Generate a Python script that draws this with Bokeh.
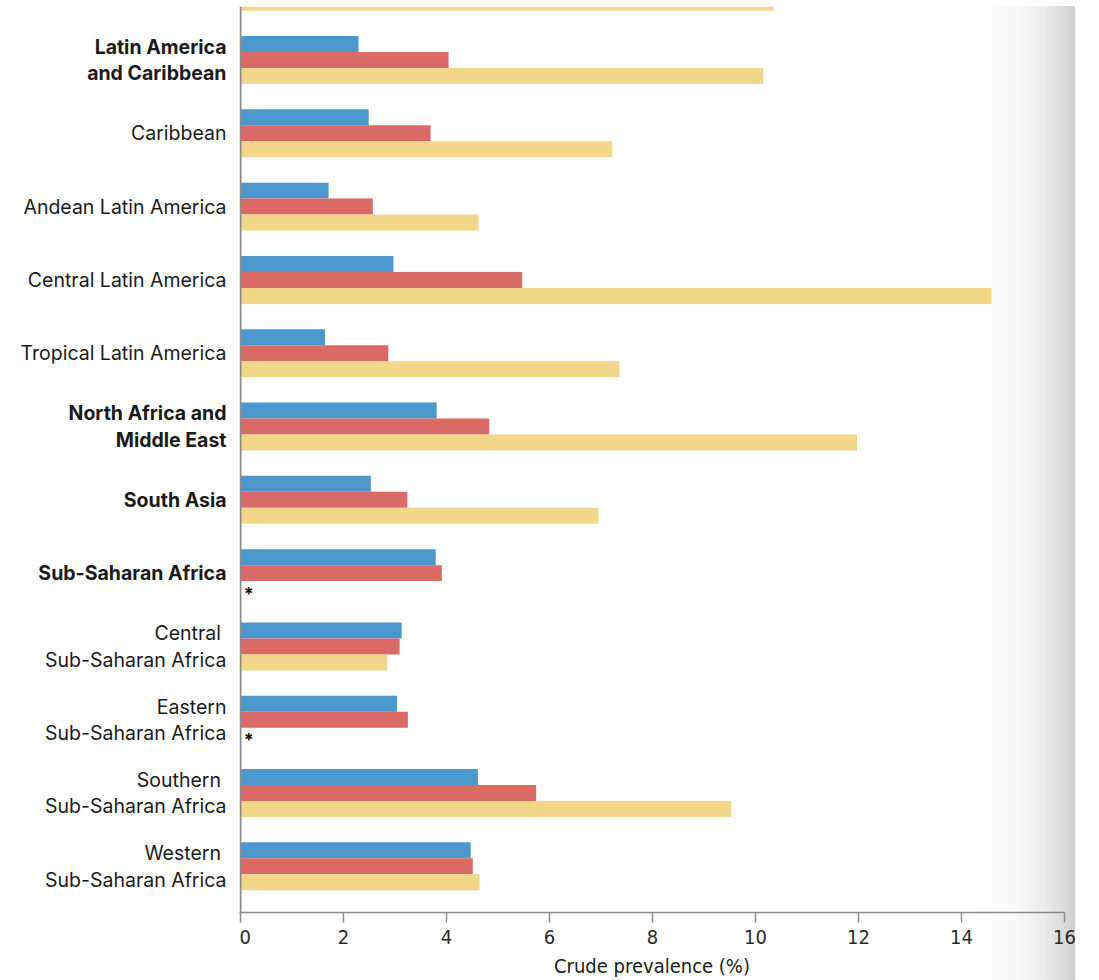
import math

from bokeh.core.properties import value
from bokeh.embed import file_html
from bokeh.layouts import row
from bokeh.models import ColumnDataSource, FixedTicker, Range1d
from bokeh.plotting import figure
from bokeh.resources import INLINE

NAN = float("nan")

# Regions, top to bottom (the first row is the tail of the preceding block)
regions = [
    "Western Europe",
    "Latin America\nand Caribbean",
    "Caribbean",
    "Andean Latin America",
    "Central Latin America",
    "Tropical Latin America",
    "North Africa and\nMiddle East",
    "South Asia",
    "Sub-Saharan Africa",
    "Central \nSub-Saharan Africa",
    "Eastern\nSub-Saharan Africa",
    "Southern \nSub-Saharan Africa",
    "Western \nSub-Saharan Africa",
]
super_region = [False, True, False, False, False, False, True, True, True,
                False, False, False, False]

# Crude prevalence (%) for the three series
prev_blue = [NAN, 2.29, 2.49, 1.71, 2.97, 1.64, 3.81, 2.53, 3.79, 3.13, 3.04, 4.61, 4.47]
prev_red = [NAN, 4.04, 3.69, 2.57, 5.47, 2.87, 4.83, 3.24, 3.91, 3.09, 3.25, 5.74, 4.51]
prev_yellow = [10.35, 10.15, 7.22, 4.62, 14.58, 7.36, 11.97, 6.95, NAN, 2.85, NAN, 9.53, 4.64]

x_ticks = [0, 2, 4, 6, 8, 10, 12, 14, 16]

BLUE = "#4c98cd"
RED = "#d96a66"
YELLOW = "#f2d68a"
BAR_H = 0.218
TICK_FONT = "DejaVu Sans Condensed"

rows = list(range(len(regions)))
y_range = Range1d(12.63, 0.27)

LABEL_W = 239
FRAME_W = 825
PX_PER_UNIT = 824 / 16

# ---- left panel holding the region names ----
lab = figure(
    width=LABEL_W, height=980,
    output_backend="svg", toolbar_location=None,
    x_range=Range1d(0, LABEL_W), y_range=y_range,
    x_axis_location=None, y_axis_location=None,
    min_border_left=0, min_border_right=0,
    min_border_top=6, min_border_bottom=68,
    outline_line_color=None,
)
lab.xgrid.visible = False
lab.ygrid.visible = False

visible = [r for r in rows if y_range.end <= r <= y_range.start]
lab_src = ColumnDataSource(dict(
    x=[LABEL_W - 13] * len(visible),
    y=visible,
    text=[regions[r] for r in visible],
    style=["bold" if super_region[r] else "normal" for r in visible],
))
lab.text(x="x", y="y", text="text", source=lab_src,
         text_font=value("Inter"), text_font_size="19.5px",
         text_font_style="style", text_color="#1a1a1a",
         text_align="right", text_baseline="middle", text_line_height=1.1)

# ---- bar panel ----
p = figure(
    width=1099 - LABEL_W, height=980,
    output_backend="svg", toolbar_location=None,
    x_range=Range1d(-1 / PX_PER_UNIT, 16), y_range=y_range,
    y_axis_location=None,
    min_border_left=0, min_border_right=1099 - LABEL_W - FRAME_W,
    min_border_top=6, min_border_bottom=68,
    border_fill_color=None, background_fill_color=None,
    outline_line_color=None,
    styles={
        "background-image": (
            "linear-gradient(to bottom, #ffffff 0px, #ffffff 6px, rgba(255,255,255,0) 6px), "
            "linear-gradient(to right, #ffffff 0px, #ffffff 740px, #f8f8f8 778px, "
            "#ececec 805px, #dadada 826px, #cecece 836px, #ffffff 836px, #ffffff 860px)"
        ),
    },
)
p.xgrid.visible = False
p.ygrid.visible = False

src = ColumnDataSource(dict(
    blue_y=[r - BAR_H for r in rows],
    red_y=rows,
    yellow_y=[r + BAR_H for r in rows],
    blue=prev_blue, red=prev_red, yellow=prev_yellow,
))

p.hbar(y="blue_y", left=0, right="blue", height=BAR_H, source=src,
       fill_color=BLUE, line_color=None)
p.hbar(y="red_y", left=0, right="red", height=BAR_H, source=src,
       fill_color=RED, line_color=None)
p.hbar(y="yellow_y", left=0, right="yellow", height=BAR_H, source=src,
       fill_color=YELLOW, line_color=None)

# vertical axis line at zero
p.segment(x0=[0], x1=[0], y0=[y_range.start], y1=[y_range.end],
          line_color="#8c8c8c", line_width=2)

# Asterisk where the third series has no estimate
miss_y = [r + BAR_H for r, v in zip(rows, prev_yellow) if math.isnan(v)]
p.text(x=[0.16] * len(miss_y), y=miss_y, text=["*"] * len(miss_y),
       text_font=value("Inter"), text_font_style="bold", text_font_size="18px",
       text_color="#111111", text_align="center", text_baseline="middle",
       y_offset=4)

xa = p.xaxis[0]
xa.ticker = FixedTicker(ticks=x_ticks)
xa.axis_line_color = "#8c8c8c"
xa.axis_line_width = 1.5
xa.major_tick_line_color = "#8c8c8c"
xa.major_tick_line_width = 1.5
xa.major_tick_in = 0
xa.major_tick_out = 10
xa.minor_tick_line_color = None
xa.major_label_text_font = TICK_FONT
xa.major_label_text_font_size = "20px"
xa.major_label_text_color = "#2a2a2a"
xa.major_label_standoff = 7
xa.axis_label = "Crude prevalence (%)"
xa.axis_label_text_font = TICK_FONT
xa.axis_label_text_font_size = "20px"
xa.axis_label_text_font_style = "normal"
xa.axis_label_text_color = "#1a1a1a"
xa.axis_label_standoff = 7

layout = row(lab, p, spacing=0)
open("out.html", "w").write(file_html(layout, INLINE))
